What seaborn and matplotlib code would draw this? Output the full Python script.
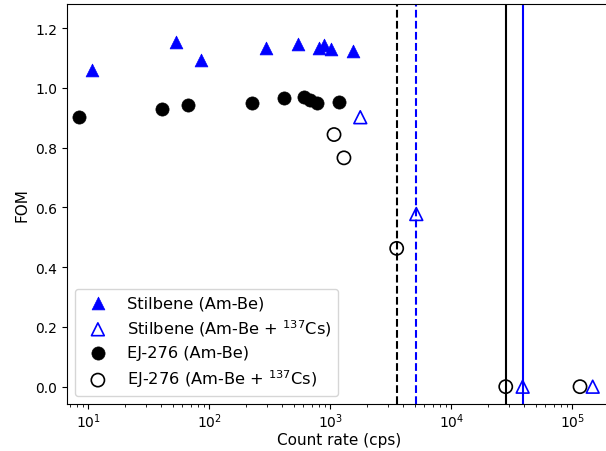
import matplotlib
matplotlib.use("Agg")
import matplotlib.pyplot as plt
import seaborn as sns
import numpy as np
import pandas as pd

# Stilbene, Am-Be only
stil_rate = [10.8, 53.3, 85.9, 292, 541, 802, 887, 1007, 1542]
stil_fom = [1.061, 1.153, 1.095, 1.135, 1.146, 1.135, 1.144, 1.130, 1.125]

# Stilbene, Am-Be + Cs-137
stil_cs_rate = [1770, 5140, 38900, 147500]
stil_cs_fom = [0.902, 0.578, 0.0, 0.0]

# EJ-276, Am-Be only
ej_rate = [8.38, 40.6, 66.2, 225, 412, 610, 679, 773, 1180]
ej_fom = [0.904, 0.929, 0.942, 0.951, 0.968, 0.971, 0.960, 0.950, 0.952]

# EJ-276, Am-Be + Cs-137
ej_cs_rate = [1074, 1297, 3540, 28200, 115900]
ej_cs_fom = [0.844, 0.766, 0.463, 0.0, 0.0]

# rate limits (dashed / solid vertical lines)
ej_lim = [3540, 28200]
stil_lim = [5140, 38900]

fig = plt.figure(figsize=(6.06, 4.52), dpi=100)
ax = fig.add_axes([67 / 606, 47 / 452, 545 / 606, 400 / 452])

ax.axvline(ej_lim[0], color="k", ls="--", lw=1.5, zorder=1)
ax.axvline(stil_lim[0], color="blue", ls="--", lw=1.5, zorder=1)
ax.axvline(ej_lim[1], color="k", ls="-", lw=1.5, zorder=1)
ax.axvline(stil_lim[1], color="blue", ls="-", lw=1.5, zorder=1)

sns.scatterplot(x=stil_rate, y=stil_fom, marker="^", s=85, color="blue",
                edgecolor="blue", linewidth=0.5, label="Stilbene (Am-Be)", ax=ax, zorder=3)
sns.scatterplot(x=stil_cs_rate, y=stil_cs_fom, marker="^", s=85, facecolors="none",
                edgecolors="blue", linewidth=1.2, label="Stilbene (Am-Be + $^{137}$Cs)", ax=ax, zorder=3)
sns.scatterplot(x=ej_rate, y=ej_fom, marker="o", s=90, color="black",
                edgecolor="black", linewidth=0.5, label="EJ-276 (Am-Be)", ax=ax, zorder=3)
sns.scatterplot(x=ej_cs_rate, y=ej_cs_fom, marker="o", s=90, facecolors="none",
                edgecolors="black", linewidth=1.2, label="EJ-276 (Am-Be + $^{137}$Cs)", ax=ax, zorder=3)

ax.set_xscale("log")
ax.set_xlim(6.67, 2.13e5)
ax.set_ylim(-0.058, 1.281)
ax.set_yticks(np.arange(0.0, 1.21, 0.2))
ax.set_xlabel("Count rate (cps)", fontsize=11, labelpad=2)
ax.set_ylabel("FOM", fontsize=11)
ax.tick_params(labelsize=10)
ax.tick_params(axis="x", which="both", pad=1.5)
ax.legend(loc="lower left", fontsize=11.7, labelspacing=0.45, borderaxespad=0.5)

fig.savefig("out.png", dpi=100)
